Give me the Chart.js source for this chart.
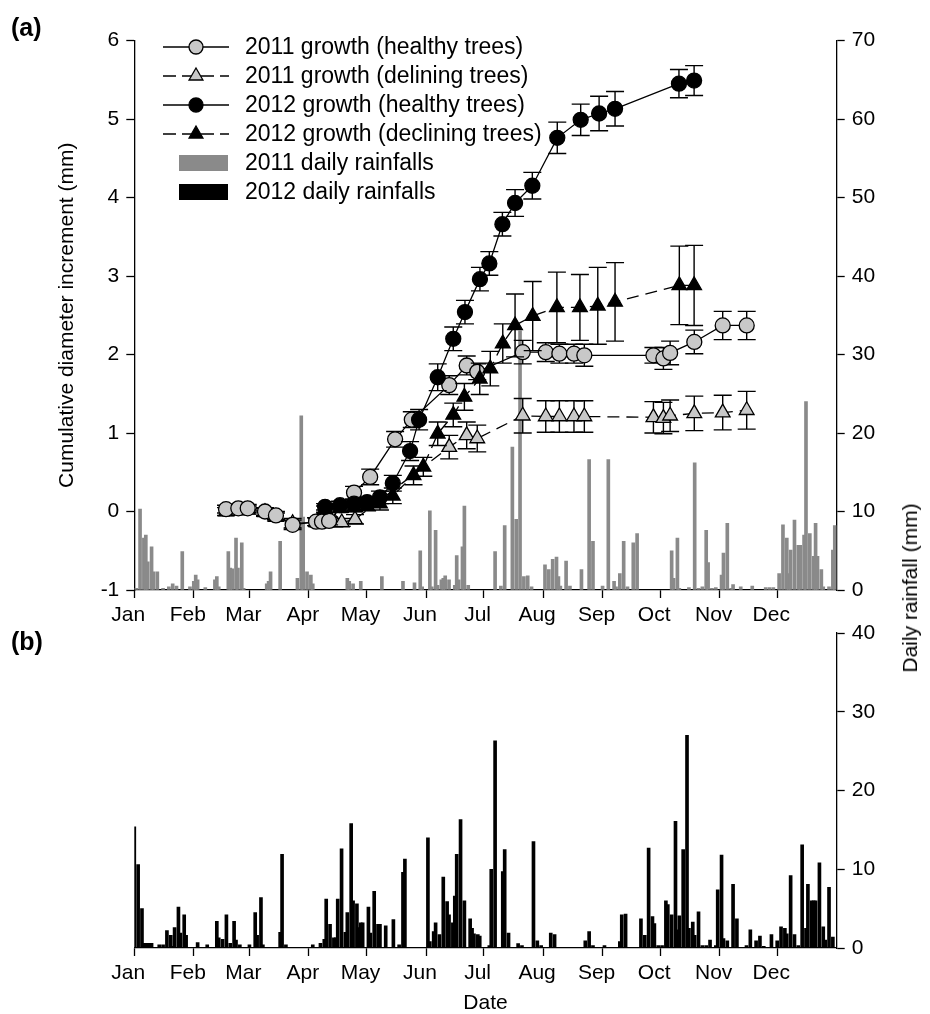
<!DOCTYPE html>
<html>
<head>
<meta charset="utf-8">
<script src="https://cdn.jsdelivr.net/npm/chart.js@4.4.0/dist/chart.umd.min.js"></script>
<style>
  body { margin: 0; background: #fff; }
  #wrap { position: relative; width: 930px; height: 1014px; font-family: "Liberation Sans", Arial, sans-serif; }
  canvas { position: absolute; left: 0; }
  .panel { position: absolute; font-weight: bold; font-size: 25px; line-height: 1; }
  #rainTitle { position: absolute; left: 910px; top: 588px; font-size: 21px; white-space: nowrap;
               transform: translate(-50%, -50%) rotate(-90deg); }
</style>
</head>
<body>
<div id="wrap">
  <canvas id="chartA" width="930" height="640" style="top:0"></canvas>
  <canvas id="chartB" width="930" height="414" style="top:600px"></canvas>
  <div class="panel" style="left:11px; top:15px">(a)</div>
  <div class="panel" style="left:11px; top:629px">(b)</div>
  <div id="rainTitle">Daily rainfall (mm)</div>
</div>
<script>
// Axe des dates : jour de l'année (2012 bissextile)
const monthStarts = [0, 31, 60, 91, 121, 152, 182, 213, 244, 274, 305, 335];
const monthLabels = ['Jan', 'Feb', 'Mar', 'Apr', 'May', 'Jun', 'Jul', 'Aug', 'Sep', 'Oct', 'Nov', 'Dec'];

// Croissance 2011 - arbres sains
const healthy2011Days = [47.8, 54.2, 59.1, 68.1, 73.8, 82.5, 94.7, 97.8, 101.5, 114.5, 122.9, 135.9, 144.6, 164.1, 173.2, 178.7, 202.4, 214.4, 221.5, 229.1, 234.5, 270.5, 275.7, 279.2, 291.8, 306.6, 319.1];
const healthy2011Mm = [0.03, 0.04, 0.04, 0.0, -0.05, -0.17, -0.13, -0.13, -0.12, 0.24, 0.44, 0.92, 1.17, 1.61, 1.86, 1.78, 2.03, 2.03, 2.01, 2.01, 1.99, 1.99, 1.95, 2.02, 2.16, 2.37, 2.37];
const healthy2011Err = [0.05, 0.05, 0.05, 0.05, 0.05, 0.06, 0.05, 0.05, 0.05, 0.08, 0.1, 0.1, 0.1, 0.12, 0.12, 0.1, 0.15, 0.12, 0.12, 0.12, 0.14, 0.1, 0.14, 0.15, 0.15, 0.18, 0.18];

// Croissance 2011 - arbres dépérissants
const declining2011Days = [47.8, 54.2, 59.1, 68.1, 73.8, 82.5, 95.1, 99.9, 104.6, 108.1, 115, 164.1, 173.2, 178.7, 202.4, 214.4, 221.5, 229.1, 234.5, 270.5, 275.7, 279.2, 291.8, 306.6, 319.1];
const declining2011Mm = [0.0, 0.01, 0.02, -0.01, -0.07, -0.15, -0.14, -0.14, -0.14, -0.14, -0.1, 0.82, 0.97, 0.93, 1.22, 1.21, 1.21, 1.21, 1.21, 1.2, 1.19, 1.22, 1.25, 1.26, 1.29];
const declining2011Err = [0.05, 0.05, 0.05, 0.05, 0.05, 0.06, 0.05, 0.05, 0.05, 0.05, 0.06, 0.15, 0.17, 0.17, 0.22, 0.2, 0.2, 0.2, 0.2, 0.2, 0.2, 0.2, 0.22, 0.22, 0.24];

// Croissance 2012 - arbres sains
const healthy2012Days = [99.4, 107.2, 114.5, 121.3, 128, 134.7, 143.7, 148.4, 158.1, 166.2, 172.3, 180.1, 185, 191.8, 198.4, 207.4, 220.4, 232.6, 242.2, 250.5, 283.8, 291.7];
const healthy2012Mm = [0.06, 0.08, 0.1, 0.12, 0.18, 0.36, 0.77, 1.17, 1.71, 2.2, 2.54, 2.96, 3.16, 3.66, 3.93, 4.15, 4.76, 4.99, 5.07, 5.13, 5.45, 5.49];
const healthy2012Err = [0.04, 0.05, 0.05, 0.06, 0.08, 0.1, 0.12, 0.13, 0.17, 0.15, 0.15, 0.15, 0.15, 0.15, 0.17, 0.17, 0.2, 0.2, 0.22, 0.22, 0.18, 0.19];

// Croissance 2012 - arbres dépérissants
const declining2012Days = [99.4, 107.2, 114.5, 121.3, 128, 134.7, 145.5, 150.6, 158.1, 166.2, 172, 180, 185.5, 192, 198.4, 207.6, 220.2, 232.2, 241.5, 250.5, 284, 291.7];
const declining2012Mm = [0.03, 0.04, 0.05, 0.07, 0.1, 0.2, 0.46, 0.57, 0.99, 1.23, 1.46, 1.69, 1.82, 2.14, 2.37, 2.49, 2.6, 2.6, 2.62, 2.67, 2.88, 2.88];
const declining2012Err = [0.04, 0.05, 0.05, 0.06, 0.08, 0.1, 0.12, 0.12, 0.15, 0.15, 0.17, 0.2, 0.22, 0.25, 0.4, 0.44, 0.45, 0.42, 0.49, 0.5, 0.5, 0.51];

// Pluies journalières 2011 (mm)
const rain2011Days = [1, 3, 5, 6, 7, 9, 10, 12, 15, 18, 20, 22, 25, 29, 31, 32, 33, 37, 42, 43, 44, 49, 50, 51, 53, 54, 56, 57, 69, 70, 71, 76, 85, 87, 88, 90, 92, 93, 111, 112, 114, 118, 129, 140, 146, 149, 150, 154, 155, 157, 158, 160, 161, 162, 164, 167, 168, 169, 171, 172, 174, 188, 191, 193, 197, 199, 201, 203, 205, 207, 214, 216, 218, 220, 221, 222, 225, 227, 233, 237, 239, 244, 247, 250, 251, 253, 255, 257, 260, 262, 280, 281, 283, 284, 289, 292, 294, 296, 298, 299, 301, 303, 306, 307, 309, 311, 312, 316, 322, 329, 331, 333, 336, 338, 340, 341, 342, 344, 346, 347, 349, 350, 352, 354, 355, 356, 358, 359, 362, 364, 365];
const rain2011Mm = [0.2, 10.3, 6.6, 7.0, 3.6, 5.5, 2.3, 2.3, 0.2, 0.4, 0.8, 0.5, 4.9, 0.4, 1.1, 1.9, 1.3, 0.3, 1.3, 1.7, 0.4, 4.9, 2.8, 2.7, 6.6, 2.8, 6.0, 0.2, 0.8, 1.1, 2.3, 6.2, 1.5, 22.2, 9.3, 2.3, 1.9, 0.8, 1.5, 1.1, 0.8, 1.1, 1.7, 1.1, 0.9, 5.0, 0.4, 10.1, 0.4, 7.6, 0.6, 1.3, 1.5, 1.8, 1.3, 0.6, 4.4, 1.3, 5.5, 10.7, 0.6, 4.9, 0.5, 8.2, 18.2, 9.0, 33, 1.7, 1.8, 0.4, 3.2, 2.6, 3.9, 4.2, 1.7, 0.5, 3.7, 0.5, 2.6, 16.6, 6.2, 0.5, 16.6, 1.1, 0.4, 2.1, 6.2, 0.4, 6.0, 7.2, 5.0, 1.5, 6.6, 0.2, 0.3, 16.2, 0.2, 0.4, 7.6, 3.5, 0.2, 0.3, 1.9, 4.7, 8.5, 0.2, 0.7, 0.4, 0.5, 0.3, 0.3, 0.3, 2.1, 8.3, 6.6, 2.1, 5.1, 8.9, 5.7, 5.7, 7.0, 24, 7.2, 4.3, 8.5, 4.3, 2.6, 0.4, 0.4, 5.1, 8.2];

// Pluies journalières 2012 (mm)
const rain2012Days = [0, 2, 4, 5, 6, 7, 8, 9, 13, 15, 17, 19, 20, 21, 23, 24, 26, 27, 33, 38, 43, 44, 46, 48, 50, 52, 53, 55, 60, 63, 64, 66, 67, 76, 77, 79, 93, 97, 99, 100, 102, 104, 105, 106, 108, 110, 111, 113, 114, 116, 117, 118, 119, 122, 123, 125, 127, 128, 131, 135, 138, 140, 141, 153, 154, 156, 157, 159, 161, 163, 164, 166, 167, 168, 170, 172, 175, 176, 177, 179, 180, 185, 186, 188, 192, 193, 195, 200, 202, 208, 210, 212, 217, 219, 235, 237, 239, 245, 253, 254, 256, 264, 266, 268, 270, 271, 273, 275, 277, 278, 280, 282, 283, 284, 286, 288, 289, 291, 292, 294, 296, 298, 300, 303, 304, 306, 307, 309, 312, 314, 319, 321, 324, 326, 328, 332, 335, 337, 339, 340, 342, 344, 346, 348, 350, 351, 353, 354, 355, 357, 359, 360, 362, 364];
const rain2012Mm = [15.4, 10.6, 5.0, 0.6, 0.6, 0.6, 0.6, 0.6, 0.4, 0.4, 2.2, 1.6, 0.2, 2.6, 5.2, 1.9, 4.2, 1.6, 0.7, 0.4, 3.4, 1.3, 1.1, 4.2, 0.6, 3.4, 1.0, 0.4, 0.4, 4.5, 1.6, 6.4, 0.4, 2.0, 11.9, 0.4, 0.4, 0.6, 1.1, 6.2, 3.0, 1.3, 1.3, 6.2, 12.6, 2.0, 4.5, 15.8, 6.0, 5.6, 2.6, 3.2, 3.2, 5.2, 1.9, 7.2, 3.0, 3.0, 2.8, 3.6, 0.4, 9.6, 11.3, 14.0, 0.8, 2.1, 3.2, 1.7, 9.0, 5.9, 4.2, 3.2, 6.6, 11.9, 16.3, 6.0, 3.7, 2.5, 1.8, 1.7, 1.5, 0.3, 10.0, 26.3, 9.7, 12.5, 1.9, 0.55, 0.3, 13.5, 0.9, 0.3, 1.9, 1.7, 0.9, 2.1, 0.3, 0.3, 0.8, 4.2, 4.3, 3.7, 1.6, 12.7, 4.0, 3.1, 0.3, 0.3, 6.0, 5.5, 4.2, 16.1, 2.3, 4.1, 12.5, 27.0, 2.5, 3.3, 1.6, 4.6, 0.3, 0.3, 1.0, 0.3, 7.4, 11.8, 1.2, 0.9, 8.1, 3.7, 0.3, 2.3, 0.9, 1.5, 0.2, 1.7, 0.9, 2.7, 2.5, 1.8, 9.2, 1.7, 0.3, 13.1, 2.5, 8.1, 6.0, 6.0, 6.0, 10.8, 2.7, 1.0, 7.7, 1.4];

const FONT = '"Liberation Sans", Arial, sans-serif';
const GREY_BAR = '#8a8a8a';
const GREY_MARK = '#c8c8c8';

Chart.defaults.font.family = FONT;
Chart.defaults.font.size = 21;
Chart.defaults.color = '#000';

// Transforme deux listes en points {x, y}
function toPoints(days, values) {
    return days.map((d, i) => ({ x: d, y: values[i] }));
}

// Barres d'erreur, dessinées juste avant chaque série
const errorBars = {
    id: 'errorBars',
    beforeDatasetDraw(chart, args) {
        const ds = chart.data.datasets[args.index];
        if (!ds.errors) return;
        const ctx = chart.ctx;
        const xs = chart.scales.x;
        const ys = chart.scales[ds.yAxisID || 'y'];
        ctx.save();
        ctx.strokeStyle = '#000';
        ctx.lineWidth = 1.4;
        ctx.setLineDash([]);
        ds.data.forEach((p, i) => {
            const e = ds.errors[i];
            const px = xs.getPixelForValue(p.x);
            const top = ys.getPixelForValue(p.y + e);
            const bot = ys.getPixelForValue(p.y - e);
            ctx.beginPath();
            ctx.moveTo(px, top); ctx.lineTo(px, bot);
            ctx.moveTo(px - 9, top); ctx.lineTo(px + 9, top);
            ctx.moveTo(px - 9, bot); ctx.lineTo(px + 9, bot);
            ctx.stroke();
        });
        ctx.restore();
    }
};

// Légende dessinée à la main (ligne + symbole)
const legendItems = [
    { text: '2011 growth (healthy trees)', dash: [], style: 'circle', fill: GREY_MARK, r: 7 },
    { text: '2011 growth (delining trees)', dash: [13, 6], style: 'triangle', fill: GREY_MARK, r: 8 },
    { text: '2012 growth (healthy trees)', dash: [], style: 'circle', fill: '#000', r: 7 },
    { text: '2012 growth (declining trees)', dash: [13, 6], style: 'triangle', fill: '#000', r: 8 },
    { text: '2011 daily rainfalls', box: GREY_BAR },
    { text: '2012 daily rainfalls', box: '#000' }
];

const customLegend = {
    id: 'customLegend',
    afterDraw(chart) {
        const ctx = chart.ctx;
        ctx.save();
        legendItems.forEach((it, i) => {
            const y = 47 + i * 29;
            if (it.box) {
                ctx.fillStyle = it.box;
                ctx.fillRect(179, y - 8, 49, 16);
            } else {
                ctx.strokeStyle = '#000';
                ctx.lineWidth = 1.3;
                ctx.setLineDash(it.dash);
                ctx.beginPath();
                ctx.moveTo(163, y); ctx.lineTo(229, y);
                ctx.stroke();
                ctx.setLineDash([]);
                ctx.fillStyle = it.fill;
                ctx.strokeStyle = '#000';
                ctx.lineWidth = 1.3;
                Chart.helpers.drawPoint(ctx, { pointStyle: it.style, radius: it.r, rotation: 0, borderWidth: 1.3 }, 196, y);
            }
            ctx.fillStyle = '#000';
            ctx.font = '23px ' + FONT;
            ctx.textBaseline = 'middle';
            ctx.fillText(it.text, 245, y + 1);
        });
        ctx.restore();
    }
};

// Options communes pour l'axe des dates
function dateAxis(extra) {
    return Object.assign({
        type: 'linear',
        min: 0,
        max: 366,
        offset: false,
        afterBuildTicks: (scale) => { scale.ticks = monthStarts.map(v => ({ value: v })); },
        ticks: { autoSkip: false, maxRotation: 0, padding: 5, labelOffset: -6, callback: (v, i) => monthLabels[i] },
        grid: { drawOnChartArea: false, offset: false, tickLength: 8, color: '#000', tickWidth: 1.3 },
        border: { display: true, color: '#000', width: 1.3 }
    }, extra);
}

function valueAxis(min, max, step, position, width, extra) {
    return Object.assign({
        type: 'linear',
        position: position,
        min: min,
        max: max,
        ticks: { stepSize: step, padding: 7 },
        grid: { drawOnChartArea: false, tickLength: 8, color: '#000', tickWidth: 1.3 },
        border: { display: true, color: '#000', width: 1.3 },
        afterFit: (s) => { s.width = width; }
    }, extra);
}

function growthSet(label, days, values, errors, fill, style, radius, dash, order) {
    return {
        type: 'line',
        label: label,
        data: toPoints(days, values),
        errors: errors,
        yAxisID: 'y',
        borderColor: '#000',
        borderWidth: 1.3,
        borderDash: dash,
        tension: 0,
        pointStyle: style,
        pointRadius: radius,
        pointBackgroundColor: fill,
        pointBorderColor: '#000',
        pointBorderWidth: 1.3,
        order: order
    };
}

// Graphique (a)
new Chart(document.getElementById('chartA'), {
    type: 'line',
    data: {
        datasets: [
            growthSet('2012 growth (healthy trees)', healthy2012Days, healthy2012Mm, healthy2012Err, '#000', 'circle', 7.5, [], 1),
            growthSet('2012 growth (declining trees)', declining2012Days, declining2012Mm, declining2012Err, '#000', 'triangle', 8.5, [12, 7], 2),
            growthSet('2011 growth (healthy trees)', healthy2011Days, healthy2011Mm, healthy2011Err, GREY_MARK, 'circle', 7.5, [], 3),
            growthSet('2011 growth (delining trees)', declining2011Days, declining2011Mm, declining2011Err, GREY_MARK, 'triangle', 8.5, [12, 7], 4),
            {
                type: 'bar',
                label: '2011 daily rainfalls',
                data: toPoints(rain2011Days, rain2011Mm),
                yAxisID: 'y2',
                backgroundColor: GREY_BAR,
                borderWidth: 0,
                barThickness: 3,
                order: 5
            }
        ]
    },
    options: {
        responsive: false,
        animation: false,
        layout: { padding: { top: 40.5, left: 0, right: 0, bottom: 0 } },
        plugins: { legend: { display: false }, tooltip: { enabled: false } },
        scales: {
            x: dateAxis({ afterFit: (s) => { s.height = 50; } }),
            y: valueAxis(-1, 6, 1, 'left', 134.3, {
                title: { display: true, text: 'Cumulative diameter increment (mm)', font: { size: 21 }, padding: { top: 55, bottom: 0 } }
            }),
            y2: valueAxis(0, 70, 10, 'right', 93.3)
        }
    },
    plugins: [errorBars, customLegend]
});

// Graphique (b)
new Chart(document.getElementById('chartB'), {
    type: 'bar',
    data: {
        datasets: [{
            label: '2012 daily rainfalls',
            data: toPoints(rain2012Days, rain2012Mm),
            yAxisID: 'y2',
            backgroundColor: '#000',
            borderWidth: 0,
            barThickness: 3
        }]
    },
    options: {
        responsive: false,
        animation: false,
        layout: { padding: { top: 33, left: 134.3, right: 0, bottom: 0 } },
        plugins: { legend: { display: false }, tooltip: { enabled: false } },
        scales: {
            x: dateAxis({
                title: { display: true, text: 'Date', font: { size: 21, lineHeight: 1 }, padding: { top: 0, bottom: 0 } },
                afterFit: (s) => { s.height = 66; }
            }),
            y2: valueAxis(0, 40, 10, 'right', 93.3)
        }
    }
});
</script>
</body>
</html>
